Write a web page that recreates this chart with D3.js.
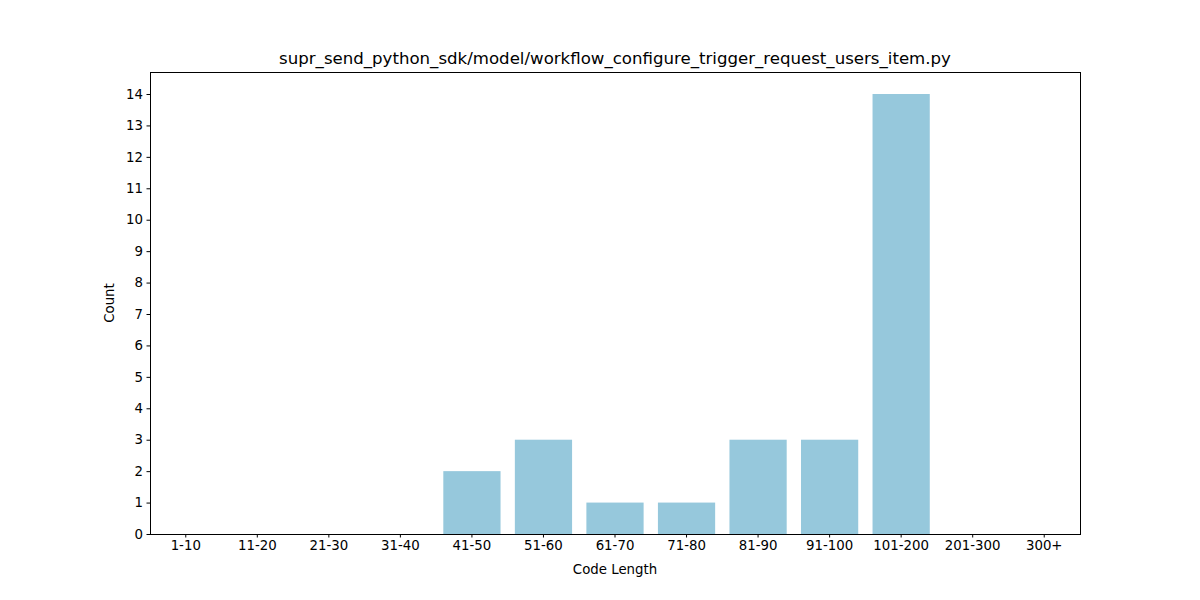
<!DOCTYPE html>
<html><head><meta charset="utf-8">
<script src="https://cdn.jsdelivr.net/npm/d3@7"></script>
<style>body{margin:0;background:#fff}svg{display:block}text{font-family:"DejaVu Sans",sans-serif;fill:#000}</style>
</head><body>
<script>
const categories = ["1-10","11-20","21-30","31-40","41-50","51-60","61-70","71-80","81-90","91-100","101-200","201-300","300+"];
const counts = [0,0,0,0,2,3,1,1,3,3,14,0,0];
const yTicks = [0,1,2,3,4,5,6,7,8,9,10,11,12,13,14];
const title = "supr_send_python_sdk/model/workflow_configure_trigger_request_users_item.py";

const W=1200,H=600, L=150,R=1080,T=72,B=534;
const svg=d3.select("body").append("svg").attr("width",W).attr("height",H);
const x=d3.scaleBand().domain(categories).range([L,R]).paddingInner(0.2).paddingOuter(0.1);
const y=d3.scaleLinear().domain([0,14.7]).range([B,T]);

svg.append("g").selectAll("rect").data(counts).join("rect")
  .attr("x",(d,i)=>x(categories[i])).attr("width",x.bandwidth())
  .attr("y",d=>y(d)).attr("height",d=>y(0)-y(d)).attr("fill","#96c8dc");

const xa=svg.append("g").attr("transform",`translate(0,${B})`)
  .call(d3.axisBottom(x).tickSize(3.5).tickPadding(3.5));
const ya=svg.append("g").attr("transform",`translate(${L},0)`)
  .call(d3.axisLeft(y).tickValues(yTicks).tickFormat(d3.format("d")).tickSize(3.5).tickPadding(3.5));
[xa,ya].forEach(a=>{a.select(".domain").remove();a.selectAll("text").style("font-size","13.33px").style("font-family","DejaVu Sans");a.selectAll("line").attr("stroke","#000").attr("stroke-width",1);});

svg.append("rect").attr("x",L).attr("y",T).attr("width",R-L).attr("height",B-T)
  .attr("fill","none").attr("stroke","#000").attr("stroke-width",1).attr("shape-rendering","crispEdges");

svg.append("text").attr("x",(L+R)/2).attr("y",T-8).attr("text-anchor","middle").style("font-size","16.6px").text(title);
svg.append("text").attr("x",(L+R)/2).attr("y",574).attr("text-anchor","middle").style("font-size","13.33px").text("Code Length");
svg.append("text").attr("transform",`translate(114,${(T+B)/2}) rotate(-90)`).attr("text-anchor","middle").style("font-size","13.33px").text("Count");
</script>
</body></html>
